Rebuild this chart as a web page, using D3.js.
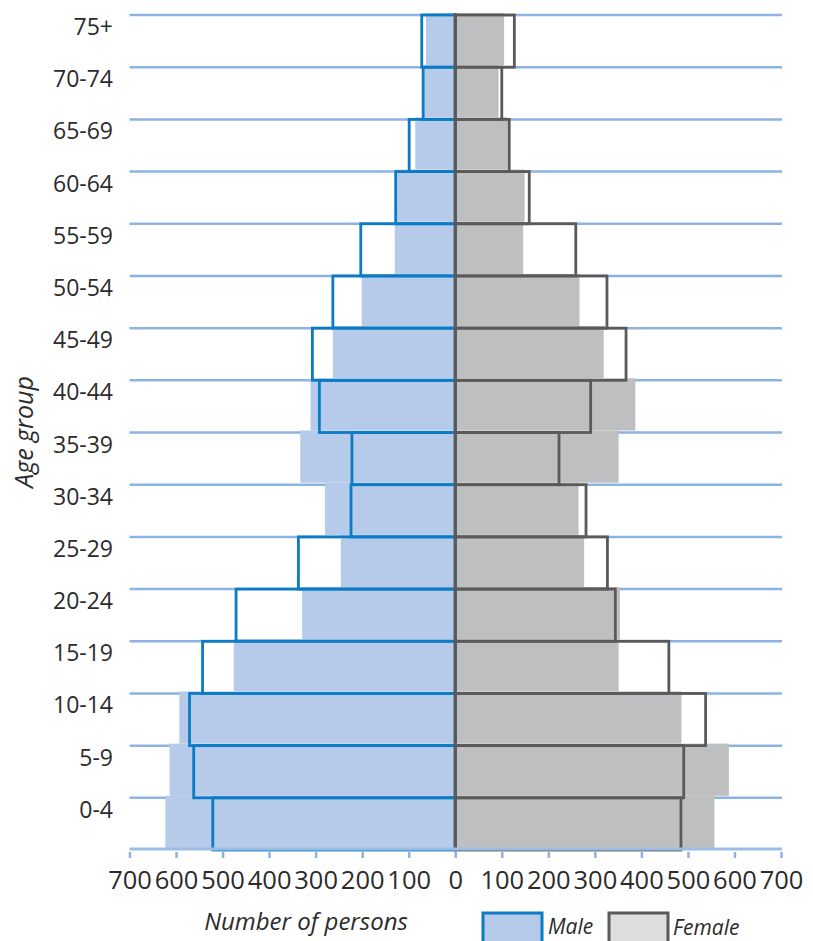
<!DOCTYPE html>
<html>
<head>
<meta charset="utf-8">
<script src="https://cdn.jsdelivr.net/npm/d3@7"></script>
<style>
body { margin: 0; background: #fff; }
text { font-family: "Open Sans", sans-serif; fill: #2b2b2b; }
</style>
</head>
<body>
<div id="vis"></div>
<script>
let ages = ["0-4", "5-9", "10-14", "15-19", "20-24", "25-29", "30-34", "35-39",
            "40-44", "45-49", "50-54", "55-59", "60-64", "65-69", "70-74", "75+"]

// filled bars
let maleFilled   = [623, 614, 593, 476, 329, 246, 280, 333, 311, 263, 201, 130, 127, 86, 67, 63]
let femaleFilled = [557, 588, 486, 351, 354, 277, 265, 351, 387, 319, 267, 146, 149, 113, 93, 105]

// outlined bars
let maleOutline   = [521, 562, 571, 543, 471, 337, 224, 222, 292, 307, 263, 203, 128, 99, 69, 72]
let femaleOutline = [485, 491, 538, 459, 344, 327, 281, 223, 291, 367, 326, 259, 159, 116, 100, 127]

let xTicks = [-700, -600, -500, -400, -300, -200, -100, 0, 100, 200, 300, 400, 500, 600, 700]

let config = {}
config.width = 813
config.height = 941

let svg = d3.select("#vis")
    .append("svg")
    .attr("width", config.width)
    .attr("height", config.height)

let x = d3.scaleLinear()
    .domain([-700, 700])
    .range([129.5, 781])

let y = d3.scaleBand()
    .domain(ages)
    .range([848, 13])

let rows = ages.map((a, i) => ({
    age: a,
    mf: maleFilled[i], ff: femaleFilled[i],
    mo: maleOutline[i], fo: femaleOutline[i]
}))

// grid lines at band edges
let edges = ages.map(a => y(a))
svg.append("g")
    .attr("transform", "translate(0,2)")
    .selectAll("line")
    .data(edges)
    .join("line")
    .attr("x1", x(-700))
    .attr("x2", x(700) + 1)
    .attr("y1", d => d)
    .attr("y2", d => d)
    .attr("stroke", "#8db3e2")
    .attr("stroke-width", 2.5)

// filled bars
let filled = svg.append("g")
filled.selectAll("rect.m")
    .data(rows)
    .join("rect")
    .attr("class", "m")
    .attr("x", d => x(-d.mf))
    .attr("width", d => x(0) - x(-d.mf))
    .attr("y", d => y(d.age))
    .attr("height", y.bandwidth())
    .attr("fill", "#b6cbea")
filled.selectAll("rect.f")
    .data(rows)
    .join("rect")
    .attr("class", "f")
    .attr("x", x(0))
    .attr("width", d => x(d.ff) - x(0))
    .attr("y", d => y(d.age))
    .attr("height", y.bandwidth())
    .attr("fill", "#bebfc0")

// outlined bars
let outline = svg.append("g")
    .attr("transform", "translate(0,2)")
    .attr("fill", "none")
    .attr("stroke-width", 2.8)
outline.selectAll("rect.m")
    .data(rows)
    .join("rect")
    .attr("class", "m")
    .attr("x", d => x(-d.mo))
    .attr("width", d => x(0) - x(-d.mo))
    .attr("y", d => y(d.age))
    .attr("height", y.bandwidth())
    .attr("stroke", "#0a7bc4")
outline.selectAll("rect.f")
    .data(rows)
    .join("rect")
    .attr("class", "f")
    .attr("x", x(0))
    .attr("width", d => x(d.fo) - x(0))
    .attr("y", d => y(d.age))
    .attr("height", y.bandwidth())
    .attr("stroke", "#5a5a5a")

// centre line
svg.append("line")
    .attr("x1", x(0))
    .attr("x2", x(0))
    .attr("y1", 13)
    .attr("y2", 849)
    .attr("stroke", "#5a5a5a")
    .attr("stroke-width", 3)

// x axis
let axis = svg.append("g")
    .attr("transform", "translate(0,849)")
    .call(d3.axisBottom(x)
        .tickValues(xTicks)
        .tickSize(9)
        .tickPadding(13)
        .tickFormat(d => Math.abs(d)))
axis.select(".domain")
    .attr("d", `M${x(-700)},0H${x(700) + 1}`)
    .attr("stroke", "#9cbde6")
    .attr("stroke-width", 3)
axis.selectAll(".tick line")
    .attr("stroke", "#8db3e2")
    .attr("stroke-width", 2.5)
    .attr("y1", 3)
axis.selectAll(".tick text")
    .attr("font-family", "Open Sans, sans-serif")
    .attr("font-size", 25.5)
    .attr("fill", "#2b2b2b")

// age labels
svg.append("g")
    .selectAll("text")
    .data(ages)
    .join("text")
    .attr("x", 113)
    .attr("y", d => y(d) + 22)
    .attr("text-anchor", "end")
    .attr("font-size", 23)
    .text(d => d)

svg.append("text")
    .attr("transform", "translate(33,432) rotate(-90)")
    .attr("text-anchor", "middle")
    .attr("font-size", 25)
    .attr("font-style", "italic")
    .text("Age group")

svg.append("text")
    .attr("x", 306)
    .attr("y", 930)
    .attr("text-anchor", "middle")
    .attr("font-size", 24)
    .attr("font-style", "italic")
    .text("Number of persons")

// legend
let legend = [
    {name: "Male", fill: "#b6cbea", stroke: "#0a7bc4", x: 483, tx: 548, ty: 934},
    {name: "Female", fill: "#dcdddf", stroke: "#5a5a5a", x: 609, tx: 673, ty: 935}
]
let lg = svg.append("g")
    .selectAll("g")
    .data(legend)
    .join("g")
lg.append("rect")
    .attr("x", d => d.x)
    .attr("y", 913)
    .attr("width", 59)
    .attr("height", 34)
    .attr("fill", d => d.fill)
    .attr("stroke", d => d.stroke)
    .attr("stroke-width", 3)
lg.append("text")
    .attr("x", d => d.tx)
    .attr("y", d => d.ty)
    .attr("font-size", 21)
    .attr("font-style", "italic")
    .text(d => d.name)
</script>
</body>
</html>
